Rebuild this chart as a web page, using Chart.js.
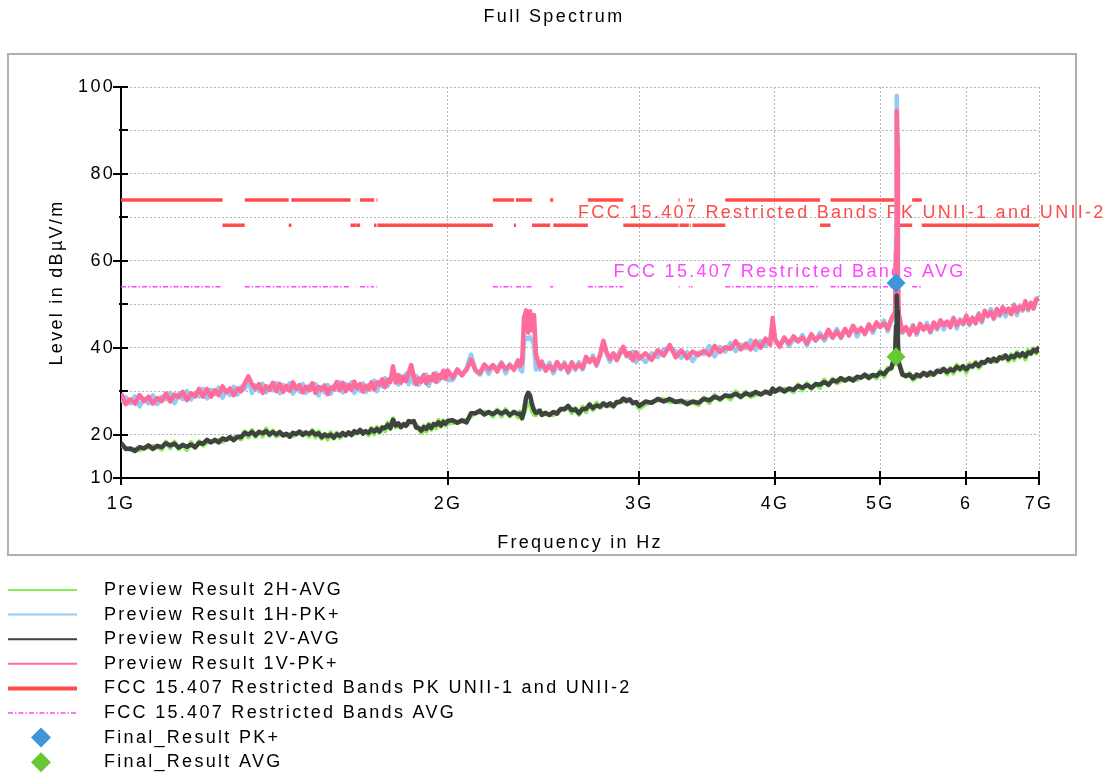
<!DOCTYPE html>
<html>
<head>
<meta charset="utf-8">
<script src="https://cdn.jsdelivr.net/npm/chart.js@4.4.1/dist/chart.umd.min.js"></script>
<style>
html,body{margin:0;padding:0;background:#fff;}
#wrap{width:1108px;height:774px;position:relative;}
</style>
</head>
<body>
<div id="wrap"><canvas id="c" width="1108" height="774"></canvas></div>
<script>
// ---------------- DATA ----------------
const FREQ_GHZ = [
1.00,1.01,1.02,1.03,1.04,1.05,1.06,1.07,1.08,1.09,1.10,1.11,1.12,1.13,1.14,1.15,1.16,1.17,1.18,1.19,1.20,1.21,1.22,1.23,1.24,1.25,1.26,1.27,1.28,1.29,1.30,1.31,1.32,1.33,1.34,1.35,1.36,1.37,1.38,1.39,1.40,1.41,1.42,1.43,1.44,1.45,1.46,1.47,1.48,1.49,1.50,1.51,1.52,1.53,1.54,1.55,1.56,1.57,1.58,1.59,1.60,1.61,1.62,1.63,1.64,1.65,1.66,1.67,1.68,1.69,1.70,1.71,1.72,1.73,1.74,1.75,1.76,1.77,1.78,1.79,1.80,1.81,1.82,1.83,1.84,1.85,1.86,1.87,1.88,1.89,1.90,1.91,1.92,1.93,1.94,1.95,1.96,1.97,1.98,1.99,2.00,
2.02,2.04,2.06,2.08,2.10,2.12,2.14,2.16,2.18,2.20,2.22,2.24,2.26,2.28,2.30,2.32,2.33,2.34,2.35,2.36,2.37,2.38,2.39,2.40,2.41,2.42,2.43,2.44,2.46,2.48,2.50,2.52,2.54,2.56,2.58,2.60,2.62,2.64,2.66,2.68,2.70,2.72,2.74,2.76,2.78,2.80,2.82,2.84,2.86,2.88,2.90,2.92,2.94,2.96,2.98,3.00,
3.04,3.08,3.12,3.16,3.20,3.24,3.28,3.32,3.36,3.40,3.44,3.48,3.52,3.56,3.60,3.64,3.68,3.72,3.76,3.80,3.84,3.88,3.92,3.96,3.98,4.00,4.04,4.08,4.12,4.16,4.20,4.24,4.28,4.32,4.36,4.40,4.44,4.48,4.52,4.56,4.60,4.64,4.68,4.72,4.76,4.80,4.84,4.88,4.92,4.96,5.00,5.04,5.08,5.12,5.16,5.17,5.175,5.18,5.185,5.19,5.20,5.24,5.28,5.32,5.36,5.40,5.44,5.48,5.52,5.56,5.60,5.64,5.68,5.72,5.76,5.80,5.84,5.88,5.92,5.96,6.00,6.04,6.08,6.12,6.16,6.20,6.24,6.28,6.32,6.36,6.40,6.44,6.48,6.52,6.56,6.60,6.64,6.68,6.72,6.76,6.80,6.84,6.88,6.92,6.96,7.00
];

// Preview Result 2H-AVG (green)
const AV_2H = [
17.5,16.9,16.5,16.7,16.4,16.9,17.1,17.3,17.2,16.6,18.3,16.9,18.3,16.7,17.7,16.5,18.2,16.9,18.4,17.5,18.2,18.4,18.5,18.7,18.4,18.9,19.0,19.3,19.3,18.9,20.7,19.4,21.0,19.5,20.7,19.6,21.3,19.8,20.9,19.6,20.0,20.0,19.9,20.0,19.7,20.2,20.3,20.5,20.3,19.6,21.0,19.4,20.7,19.1,20.1,18.9,20.5,19.1,20.4,19.3,19.8,20.0,20.2,20.4,20.1,20.5,20.7,20.8,20.6,19.9,21.5,20.1,21.7,20.4,21.7,20.8,22.7,21.3,23.7,21.7,22.0,21.9,22.1,22.5,22.4,23.0,22.7,22.2,21.3,20.4,22.0,20.7,22.5,21.2,22.5,21.5,23.3,21.9,23.2,22.1,22.6,
22.7,22.9,23.0,23.3,24.2,25.0,25.1,25.2,25.0,24.2,25.7,24.2,25.8,24.2,25.3,24.0,25.3,23.6,25.0,26.5,27.2,26.8,25.5,24.6,24.5,25.5,24.9,24.9,24.7,24.6,24.5,25.3,25.7,26.1,26.2,25.0,26.0,24.6,26.4,25.2,27.0,25.7,27.3,26.2,26.7,26.9,26.6,26.9,27.2,27.6,27.6,28.2,27.9,27.5,27.1,26.0,
27.0,27.5,27.9,28.1,27.5,27.6,27.4,27.6,27.4,26.8,28.5,27.3,29.1,27.9,29.1,28.1,29.9,28.5,29.8,28.7,29.2,29.4,29.6,29.9,29.9,30.0,30.2,30.5,30.4,29.8,31.5,30.2,31.8,30.5,31.7,30.8,32.6,31.3,32.8,31.8,32.4,32.6,32.7,32.9,32.6,33.2,33.4,33.6,33.5,33.0,34.6,33.3,35.3,35.1,37.8,43.0,48.0,50.0,46.0,40.0,36.8,34.3,33.3,34.1,32.6,33.2,33.6,33.9,34.1,33.6,33.9,34.3,35.0,34.9,33.9,35.3,34.1,36.0,34.8,35.8,34.3,36.3,35.5,36.7,35.4,36.1,36.7,37.0,37.3,36.8,37.0,37.4,38.1,38.0,36.9,38.4,37.2,39.0,37.8,38.8,37.3,39.4,38.5,39.8,38.7,39.6
];

// Preview Result 1H-PK+ (light blue)
const PK_1H = [
27.3,28.6,27.2,28.8,26.5,28.2,27.2,29.0,27.0,28.7,28.1,29.6,27.2,29.3,28.2,30.0,28.1,29.6,28.8,30.5,28.3,30.3,29.3,30.8,28.5,30.2,29.1,31.0,29.2,31.0,30.5,32.8,29.6,31.3,30.0,31.7,29.7,31.1,30.2,31.8,29.5,31.4,30.3,31.8,29.4,31.0,29.9,31.6,29.6,31.2,30.5,31.6,29.0,31.0,29.7,31.4,29.4,31.3,30.4,32.0,29.7,31.6,30.5,32.0,29.6,31.2,30.1,31.8,29.8,31.4,30.7,32.4,30.0,32.2,31.1,33.0,31.2,32.9,34.2,33.8,31.5,33.5,32.4,34.0,31.6,35.2,31.8,33.5,31.5,33.1,32.4,33.8,31.2,33.2,32.4,34.2,32.3,33.8,33.0,34.7,32.5,
32.6,34.6,33.6,35.2,38.4,34.7,33.8,35.7,34.0,35.8,35.2,36.6,34.1,36.2,35.0,36.9,35.0,34.5,41.5,42.3,42.0,42.4,41.8,40.5,35.0,35.6,35.0,36.3,35.2,36.5,34.1,36.1,35.0,36.6,34.2,35.9,34.9,36.7,35.0,37.2,36.7,38.2,35.8,38.0,40.8,38.7,36.8,38.3,37.6,39.3,39.0,38.9,37.7,39.1,36.6,38.2,
36.7,38.7,37.8,39.6,39.9,39.2,37.7,39.0,36.9,38.9,38.5,40.4,38.0,40.2,39.1,41.1,39.2,40.7,39.9,41.7,39.5,41.5,40.5,42.1,45.5,41.6,40.5,42.3,40.4,42.0,41.4,42.9,40.5,42.7,41.6,43.4,41.6,43.2,42.5,44.3,42.2,44.2,43.2,44.9,42.6,44.4,43.4,45.3,43.4,45.2,44.7,46.2,43.8,46.3,48.0,65.0,92.0,98.0,89.0,57.0,47.0,43.4,44.6,43.5,45.2,43.0,45.0,44.1,45.7,43.5,45.2,44.2,46.1,44.2,45.9,45.4,46.9,44.4,46.5,45.3,47.1,45.2,46.8,46.1,47.9,45.8,48.0,47.2,48.9,46.6,48.3,47.3,49.1,47.2,48.9,48.4,49.9,47.5,49.7,48.5,50.4,48.6,50.2,49.5,51.3,51.6
];

// Preview Result 2V-AVG (dark grey)
const AV_2V = [
18.1,16.7,16.8,16.2,17.1,16.8,17.5,16.7,17.4,17.1,18.0,17.5,17.9,17.0,17.6,17.2,17.7,17.1,18.1,17.9,18.8,18.2,18.8,18.2,19.1,18.8,19.4,18.7,19.5,19.4,20.4,20.0,20.6,19.8,20.6,20.3,20.8,20.0,20.6,20.0,20.6,19.8,20.2,19.5,20.4,20.1,20.7,19.9,20.5,20.1,20.7,20.0,20.3,19.4,20.0,19.6,20.0,19.3,20.1,19.7,20.4,19.8,20.5,19.9,20.8,20.4,21.1,20.2,20.8,20.4,21.2,20.7,21.3,20.7,21.6,21.5,22.2,21.5,23.4,22.1,22.6,21.7,22.4,22.0,23.1,22.9,23.1,21.6,21.5,20.9,21.7,21.3,22.1,21.5,22.4,22.2,22.8,22.1,22.9,22.5,23.2,
23.3,22.7,23.3,22.8,24.9,24.9,25.5,24.6,25.2,24.7,25.4,24.8,25.4,24.5,25.2,24.7,24.8,23.8,25.5,28.5,29.6,29.0,27.0,25.6,25.0,25.2,25.5,24.5,25.0,24.5,25.2,24.8,25.9,25.8,26.6,25.6,25.8,24.9,25.9,25.9,26.9,26.1,26.7,26.4,27.2,26.6,27.2,26.5,27.5,27.5,28.3,27.7,28.1,27.2,27.5,26.6,
27.6,27.3,28.2,27.6,28.2,27.5,27.8,27.0,27.6,27.3,28.2,27.9,28.7,28.2,29.0,28.8,29.4,28.7,29.5,29.1,29.8,29.2,29.9,29.4,30.6,29.9,30.6,29.9,30.6,30.3,31.2,30.8,31.4,30.8,31.6,31.5,32.1,31.5,32.5,32.2,33.0,32.4,33.0,32.4,33.3,33.1,33.8,33.0,33.7,33.5,34.3,33.9,34.9,35.4,38.5,45.0,50.5,52.0,48.5,42.0,36.5,33.8,33.5,33.8,33.0,33.8,33.4,34.2,33.6,34.3,33.8,34.7,34.4,35.1,34.4,35.0,34.7,35.6,35.1,35.7,35.0,35.8,35.7,36.4,35.8,36.7,36.5,37.3,36.8,37.5,36.9,37.8,37.5,38.2,37.4,38.1,37.8,38.6,38.1,38.7,38.0,38.9,38.7,39.5,39.1,40.2
];

// Preview Result 1V-PK+ (pink)
const PK_1V = [
29.5,27.0,28.1,27.1,29.1,27.7,28.7,27.1,28.4,27.7,29.4,27.6,29.2,28.6,29.8,27.9,29.5,28.8,30.5,28.7,30.5,28.7,30.2,29.1,31.1,29.7,30.6,29.1,30.6,30.0,31.8,33.4,31.6,30.6,31.6,29.6,31.1,30.3,31.9,30.0,31.7,29.8,31.2,30.1,32.0,30.5,31.4,29.7,31.0,30.2,31.8,29.6,31.0,30.3,31.3,29.3,30.8,30.5,32.1,30.2,31.9,30.0,31.4,30.3,32.2,30.7,31.6,29.9,31.2,30.4,32.0,30.4,32.0,31.5,32.7,30.9,32.6,32.1,35.7,32.0,33.7,31.9,33.3,32.3,34.2,36.0,33.3,31.6,32.9,32.1,33.7,31.8,33.2,32.5,34.0,32.1,33.7,33.0,34.7,32.9,34.7,
33.1,35.0,33.7,34.9,37.2,34.8,34.1,36.1,35.0,36.0,34.5,36.4,35.1,35.9,34.9,37.1,35.8,36.5,47.0,48.6,43.5,48.4,44.0,47.5,38.5,36.8,35.6,36.8,34.7,35.8,34.8,36.7,35.3,36.2,34.6,36.6,35.3,36.1,35.3,37.9,36.7,37.6,36.1,38.3,41.6,38.8,37.5,38.7,37.1,38.6,40.2,38.1,38.8,37.1,38.9,37.5,
38.7,37.2,39.4,38.2,40.6,37.8,39.4,37.6,39.1,38.3,39.3,38.3,40.4,39.0,40.1,39.7,41.5,39.6,40.9,39.6,41.5,40.0,42.1,40.7,46.8,42.0,40.2,42.3,41.0,42.6,41.5,42.3,41.0,43.1,41.7,42.7,42.2,44.1,42.3,43.7,42.4,44.3,42.8,45.0,43.6,44.5,43.1,45.3,44.0,45.8,44.8,45.6,44.3,46.7,48.2,62.0,89.0,94.5,86.0,56.0,47.8,43.7,44.7,43.0,44.9,43.4,45.5,44.2,45.0,43.7,45.8,44.5,46.3,45.2,46.0,44.7,46.7,45.2,46.2,45.6,47.4,45.5,46.9,45.6,47.6,46.2,48.5,47.3,48.2,46.8,48.9,47.6,49.3,48.2,49.0,47.7,49.7,48.3,49.4,48.8,50.7,48.9,50.3,49.0,51.0,51.3
];

// Restricted bands (GHz) and limit levels (dBuV/m)
const RB_START = [1.000, 1.300, 1.435, 1.6455, 1.660, 1.7188, 2.200, 2.310, 2.4835, 2.690, 3.260, 3.332, 3.3458, 3.600, 4.500, 5.350];
const RB_END   = [1.240, 1.427, 1.6265, 1.6465, 1.710, 1.7222, 2.300, 2.390, 2.500, 2.900, 3.267, 3.339, 3.358, 4.400, 5.150, 5.460];
const LIMIT_PK_LEVELS = [74, 68.2];   // inside restricted bands, outside
const LIMIT_AVG_LEVELS = [54];

// Final results
const FINAL_FREQ_GHZ = [5.17];
const FINAL_PK = [54.9];
const FINAL_AVG = [37.9];

// Axes
const X_TICKS = [1, 2, 3, 4, 5, 6, 7];
const X_LABELS = ['1G', '2G', '3G', '4G', '5G', '6', '7G'];
const Y_TICKS = [10, 20, 30, 40, 50, 60, 70, 80, 90, 100];
const Y_LABELS = ['10', '20', '', '40', '', '60', '', '80', '', '100'];

const SERIES_LABELS = [
  'Preview Result 2H-AVG',
  'Preview Result 1H-PK+',
  'Preview Result 2V-AVG',
  'Preview Result 1V-PK+',
  'FCC 15.407 Restricted Bands PK UNII-1 and UNII-2',
  'FCC 15.407 Restricted Bands AVG',
  'Final_Result PK+',
  'Final_Result AVG'
];
const LIMIT_TEXT_PK = 'FCC 15.407 Restricted Bands PK UNII-1 and UNII-2';
const LIMIT_TEXT_AVG = 'FCC 15.407 Restricted Bands AVG';

// ---------------- BUILD ----------------
function trace(vals) {
  const n = Math.min(FREQ_GHZ.length, vals.length);
  const out = [];
  for (let i = 0; i < n; i++) out.push({x: FREQ_GHZ[i], y: vals[i]});
  return out;
}
function pkLimitLine() {
  const pts = [];
  for (let i = 0; i < RB_START.length; i++) {
    pts.push({x: RB_START[i], y: LIMIT_PK_LEVELS[0]}, {x: RB_END[i], y: LIMIT_PK_LEVELS[0]}, {x: RB_END[i], y: null});
    const nextStart = i + 1 < RB_START.length ? RB_START[i + 1] : 7;
    pts.push({x: RB_END[i], y: LIMIT_PK_LEVELS[1]}, {x: nextStart, y: LIMIT_PK_LEVELS[1]}, {x: nextStart, y: null});
  }
  return pts;
}
function avgLimitLine() {
  const pts = [];
  for (let i = 0; i < RB_START.length; i++) {
    pts.push({x: RB_START[i], y: LIMIT_AVG_LEVELS[0]}, {x: RB_END[i], y: LIMIT_AVG_LEVELS[0]}, {x: RB_END[i], y: null});
  }
  return pts;
}
function finals(vals) { return FINAL_FREQ_GHZ.map((f, i) => ({x: f, y: vals[i]})); }

const FONT_FAMILY = '"Liberation Sans", Arial, Helvetica, sans-serif';
const SPACING = '2.3px';
Chart.defaults.font.family = FONT_FAMILY;
Chart.defaults.font.size = 18;
Chart.defaults.color = '#000';

function setSpacing(chart) { try { chart.ctx.letterSpacing = SPACING; } catch (e) {} }

const framePlugin = {
  id: 'frame',
  beforeUpdate: setSpacing,
  beforeLayout: setSpacing,
  beforeDraw(chart) {
    setSpacing(chart);
    const ctx = chart.ctx;
    ctx.save();
    ctx.fillStyle = '#fff';
    ctx.fillRect(0, 0, chart.width, chart.height);
    ctx.strokeStyle = '#b0b0b0';
    ctx.lineWidth = 2;
    ctx.strokeRect(8, 54, 1068, 501);
    ctx.restore();
  }
};

const limitLabelPlugin = {
  id: 'limitLabels',
  beforeDatasetsDraw(chart) {
    const {ctx, scales: {x, y}} = chart;
    ctx.save();
    ctx.letterSpacing = SPACING;
    ctx.font = '18px ' + FONT_FAMILY;
    ctx.textBaseline = 'middle';
    ctx.textAlign = 'left';
    ctx.fillStyle = '#ff4b4b';
    ctx.fillText(LIMIT_TEXT_PK, x.getPixelForValue(2.635), y.getPixelForValue(71));
    ctx.fillStyle = '#ff44ff';
    ctx.fillText(LIMIT_TEXT_AVG, x.getPixelForValue(2.84), y.getPixelForValue(57.3));
    ctx.restore();
  }
};

const axisTickPlugin = {
  id: 'axisTicks',
  afterDraw(chart) {
    const {ctx, scales: {x, y}} = chart;
    ctx.save();
    ctx.strokeStyle = '#000';
    ctx.lineWidth = 2;
    ctx.beginPath();
    const ax = x.left;
    Y_TICKS.forEach((v, i) => {
      const py = Math.round(y.getPixelForValue(v));
      const left = Y_LABELS[i] ? 8 : 2;
      ctx.moveTo(ax - left, py); ctx.lineTo(ax + 7, py);
    });
    const ay = y.bottom;
    X_TICKS.forEach(v => {
      const px = Math.round(x.getPixelForValue(v));
      ctx.moveTo(px, ay - 7); ctx.lineTo(px, ay + 7);
    });
    ctx.stroke();
    ctx.restore();
  }
};

const legendPlugin = {
  id: 'listLegend',
  afterDraw(chart) {
    const ctx = chart.ctx;
    ctx.save();
    ctx.letterSpacing = SPACING;
    ctx.font = '18px ' + FONT_FAMILY;
    ctx.textBaseline = 'middle';
    ctx.textAlign = 'left';
    chart.data.datasets.forEach((ds, i) => {
      const yy = 590 + i * 24.6;
      if (ds.showLine === false) {
        const r = 10, cx = 41;
        ctx.fillStyle = ds.backgroundColor;
        ctx.beginPath();
        ctx.moveTo(cx - r, yy); ctx.lineTo(cx, yy - r); ctx.lineTo(cx + r, yy); ctx.lineTo(cx, yy + r);
        ctx.closePath(); ctx.fill();
      } else {
        ctx.strokeStyle = ds.borderColor;
        ctx.lineWidth = ds.legendWidth || ds.borderWidth;
        ctx.setLineDash(ds.borderDash || []);
        ctx.beginPath(); ctx.moveTo(8, yy); ctx.lineTo(77, yy); ctx.stroke();
        ctx.setLineDash([]);
      }
      ctx.fillStyle = '#000';
      ctx.fillText(ds.label, 104, yy);
    });
    ctx.restore();
  }
};

const lineBase = {pointRadius: 0, pointHoverRadius: 0, tension: 0, spanGaps: false, borderJoinStyle: 'round', fill: false};

const chart = new Chart(document.getElementById('c'), {
  type: 'line',
  data: {
    datasets: [
      Object.assign({}, lineBase, {label: SERIES_LABELS[0], data: trace(AV_2H), borderColor: '#86ef55', borderWidth: 4.5, legendWidth: 2, order: 6}),
      Object.assign({}, lineBase, {label: SERIES_LABELS[1], data: trace(PK_1H), borderColor: '#93cbf5', borderWidth: 4.5, legendWidth: 2, order: 8}),
      Object.assign({}, lineBase, {label: SERIES_LABELS[2], data: trace(AV_2V), borderColor: '#414141', borderWidth: 4.5, legendWidth: 2, order: 5}),
      Object.assign({}, lineBase, {label: SERIES_LABELS[3], data: trace(PK_1V), borderColor: '#ff6b9b', borderWidth: 4.5, legendWidth: 2, order: 7}),
      Object.assign({}, lineBase, {label: SERIES_LABELS[4], data: pkLimitLine(), borderColor: '#ff4b4b', borderWidth: 3.5, legendWidth: 4, borderCapStyle: 'butt', borderJoinStyle: 'miter', order: 10}),
      Object.assign({}, lineBase, {label: SERIES_LABELS[5], data: avgLimitLine(), borderColor: '#ff44ff', borderWidth: 1.5, borderDash: [5, 2, 1.5, 2], legendWidth: 1.5, order: 9}),
      {label: SERIES_LABELS[6], data: finals(FINAL_PK), showLine: false, pointStyle: 'rectRot', pointRadius: 9.5, pointHoverRadius: 9.5, backgroundColor: '#3d95dc', borderColor: '#3d95dc', borderWidth: 0, order: 1},
      {label: SERIES_LABELS[7], data: finals(FINAL_AVG), showLine: false, pointStyle: 'rectRot', pointRadius: 9.5, pointHoverRadius: 9.5, backgroundColor: '#66c933', borderColor: '#66c933', borderWidth: 0, order: 1}
    ]
  },
  options: {
    responsive: false,
    animation: false,
    devicePixelRatio: 1,
    events: [],
    layout: {padding: {left: 0, right: 0, top: 0, bottom: 216}},
    plugins: {
      legend: {display: false},
      tooltip: {enabled: false},
      title: {display: true, text: 'Full Spectrum', color: '#000', font: {size: 18, weight: 'normal'}, padding: {top: 6, bottom: 59.4}}
    },
    scales: {
      x: {
        type: 'logarithmic', min: 1, max: 7, position: 'bottom',
        afterBuildTicks: s => { s.ticks = X_TICKS.map(v => ({value: v})); },
        afterFit: s => { s.height = 80; },
        ticks: {autoSkip: false, maxRotation: 0, minRotation: 0, padding: 15, color: '#000', font: {size: 18},
          callback: (v, i) => X_LABELS[i]},
        grid: {color: '#b4b4b4', lineWidth: 1, drawTicks: false},
        border: {display: true, color: '#000', width: 2, dash: [2, 2]},
        title: {display: true, text: 'Frequency in Hz', color: '#000', font: {size: 18}, padding: {top: 0, bottom: 4}}
      },
      y: {
        type: 'linear', min: 10, max: 100, position: 'left',
        afterBuildTicks: s => { s.ticks = Y_TICKS.map(v => ({value: v})); },
        afterFit: s => { s.width = 121; },
        ticks: {autoSkip: false, padding: 6, color: '#000', font: {size: 18},
          callback: (v, i) => Y_LABELS[i]},
        grid: {color: '#b4b4b4', lineWidth: 1, drawTicks: false},
        border: {display: true, color: '#000', width: 2, dash: [2, 2]},
        title: {display: true, text: 'Level in dBµV/m', color: '#000', font: {size: 18}, padding: {top: 46, bottom: 0}}
      },
      yRight: {
        type: 'linear', position: 'right', display: true,
        afterFit: s => { s.width = 69; },
        ticks: {display: false},
        grid: {display: false, drawTicks: false},
        border: {display: false}
      }
    }
  },
  plugins: [framePlugin, limitLabelPlugin, axisTickPlugin, legendPlugin]
});
</script>
</body>
</html>
